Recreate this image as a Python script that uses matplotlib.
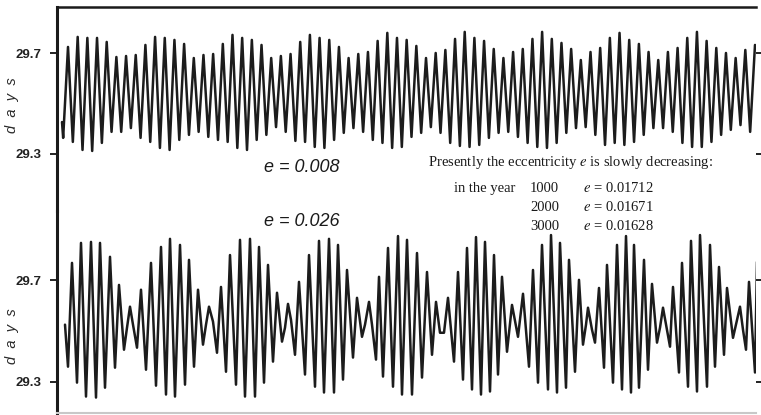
import numpy as np
import matplotlib
matplotlib.use("Agg")
import matplotlib.pyplot as plt

plt.rcParams['mathtext.fontset'] = 'stix'

# ---------------- data ----------------
# Upper curve (e = 0.008): successive maxima and minima of the month length (days)
top_start = 29.427
top_peaks = [29.726, 29.766, 29.762, 29.762, 29.746, 29.686, 29.690, 29.694, 29.734, 29.766,
             29.762, 29.754, 29.738, 29.682, 29.694, 29.698, 29.738,
             29.774, 29.762, 29.754, 29.734, 29.682, 29.690, 29.698, 29.746, 29.774, 29.762,
             29.754, 29.726, 29.682, 29.698, 29.706, 29.750, 29.782, 29.762,
             29.754, 29.730, 29.682, 29.702, 29.714, 29.758, 29.786, 29.762, 29.750, 29.718,
             29.682, 29.706, 29.718, 29.758, 29.786, 29.758, 29.742, 29.718, 29.674,
             29.706, 29.722, 29.762, 29.782, 29.754, 29.738, 29.706, 29.674, 29.706, 29.722,
             29.762, 29.786, 29.750, 29.722, 29.702, 29.682, 29.714, 29.734]
top_troughs = [29.364, 29.348, 29.316, 29.312, 29.344, 29.388, 29.388, 29.403, 29.364, 29.348,
               29.324, 29.316, 29.356, 29.376, 29.388, 29.368, 29.356, 29.348,
               29.324, 29.316, 29.356, 29.376, 29.407, 29.388, 29.352, 29.348, 29.328, 29.324,
               29.356, 29.384, 29.403, 29.388, 29.356, 29.344, 29.324,
               29.328, 29.368, 29.384, 29.407, 29.384, 29.344, 29.332, 29.328, 29.336, 29.364,
               29.384, 29.388, 29.368, 29.344, 29.328, 29.324, 29.344, 29.384, 29.403,
               29.407, 29.376, 29.336, 29.344, 29.336, 29.348, 29.376, 29.403, 29.403, 29.388,
               29.344, 29.328, 29.328, 29.348, 29.376, 29.396, 29.415, 29.388]
top_period = 9.676          # spacing of the maxima along the time axis
top_first_peak = 11.0

# Lower curve (e = 0.026): time position and value of each turning point
bot_t = [8, 11, 15, 20, 24, 29, 34, 39, 43, 48, 53, 58, 62, 67, 70, 73, 76, 80, 84, 89,
         94, 99, 104, 109, 113, 118, 123, 128, 132, 137, 141, 146, 149, 152, 156, 160, 164, 169, 173, 179,
         183, 188, 193, 198, 202, 207, 211, 216, 220, 225, 228, 231, 234, 238, 242, 248, 252, 258, 262, 267,
         272, 277, 281, 286, 290, 296, 300, 305, 308, 312, 315, 319, 322, 326, 331, 336, 341, 345, 350, 355,
         360, 365, 370, 375, 379, 383, 387, 391, 397, 401, 406, 410, 415, 419, 424, 428, 433, 437, 441, 445,
         450, 455, 461, 466, 472, 476, 481, 485, 491, 494, 500, 503, 509, 512, 518, 522, 526, 529, 531, 535,
         538, 542, 547, 550, 556, 560, 565, 569, 574, 577, 582, 587, 591, 595, 600, 603, 606, 610, 613, 616,
         622, 625, 631, 634, 640, 643, 650, 653, 658, 662, 667, 670, 676, 679, 683, 686, 689, 692, 698, 700]
bot_v = [29.525, 29.359, 29.769, 29.296, 29.848, 29.241, 29.852, 29.237, 29.848, 29.276,
         29.793, 29.355, 29.682, 29.426, 29.513, 29.596, 29.525, 29.434, 29.663, 29.347,
         29.769, 29.284, 29.832, 29.249, 29.864, 29.241, 29.840, 29.288, 29.781, 29.359,
         29.663, 29.446, 29.525, 29.596, 29.537, 29.414, 29.674, 29.339, 29.800, 29.288,
         29.860, 29.241, 29.864, 29.241, 29.832, 29.296, 29.761, 29.379, 29.651, 29.458,
         29.513, 29.607, 29.544, 29.406, 29.694, 29.328, 29.800, 29.280, 29.856, 29.257,
         29.864, 29.257, 29.840, 29.308, 29.741, 29.395, 29.631, 29.477, 29.525, 29.615,
         29.525, 29.387, 29.714, 29.320, 29.828, 29.280, 29.875, 29.249, 29.860, 29.249,
         29.808, 29.316, 29.733, 29.406, 29.615, 29.493, 29.493, 29.631, 29.379, 29.733,
         29.308, 29.828, 29.269, 29.871, 29.249, 29.852, 29.261, 29.800, 29.328, 29.714,
         29.418, 29.603, 29.477, 29.647, 29.359, 29.741, 29.296, 29.840, 29.269, 29.879,
         29.257, 29.848, 29.276, 29.781, 29.339, 29.702, 29.446, 29.525, 29.592, 29.505,
         29.454, 29.670, 29.355, 29.761, 29.296, 29.840, 29.269, 29.875, 29.257, 29.840,
         29.276, 29.781, 29.347, 29.686, 29.454, 29.513, 29.592, 29.505, 29.438, 29.674,
         29.336, 29.769, 29.280, 29.856, 29.261, 29.879, 29.280, 29.840, 29.359, 29.753,
         29.406, 29.670, 29.473, 29.525, 29.596, 29.505, 29.426, 29.694, 29.336, 29.773]

yticks = [29.3, 29.7]
ytick_labels = ["29.3", "29.7"]
curve_labels = ["e = 0.008", "e = 0.026"]
note_title = "Presently the eccentricity $e$ is slowly decreasing:"
years = ["1000", "2000", "3000"]
ecc_values = ["0.01712", "0.01671", "0.01628"]

# ---------------- build the upper series ----------------
k = np.arange(len(top_peaks))
pk_t = top_first_peak + top_period * k
tr_t = pk_t - top_period / 2
t_top = [top_first_peak - 6.0]
v_top = [top_start]
for i in range(len(top_peaks)):
    t_top += [tr_t[i], pk_t[i]]
    v_top += [top_troughs[i], top_peaks[i]]

# ---------------- figure ----------------
W, H = 761, 415
fig = plt.figure(figsize=(W / 100, H / 100), dpi=100)
fig.patch.set_facecolor("white")

L = 57 / W
AW = 699 / W
ax1 = fig.add_axes([L, 1 - 211 / H, AW, 204 / H])
ax2 = fig.add_axes([L, 1 - 413 / H, AW, 202 / H])

line_kw = dict(color="#1c1c1c", lw=1.8, solid_joinstyle="round", solid_capstyle="round")
ax1.plot(t_top, v_top, **line_kw)
ax2.plot(bot_t, bot_v, **line_kw)

ax1.set_ylim(29.073, 29.885)
ax2.set_ylim(29.176, 29.974)

for ax in (ax1, ax2):
    ax.set_xlim(0, 699)
    ax.set_xticks([])
    ax.set_yticks(yticks)
    ax.set_yticklabels(ytick_labels, fontfamily="Liberation Sans", fontweight="bold",
                       fontsize=9.5, color="#222222")
    ax.tick_params(axis="y", direction="out", length=5, width=1.4, pad=6,
                   left=True, right=True, labelright=False, color="#222222")
    ax.spines["right"].set_visible(False)
    ax.spines["left"].set_linewidth(2.2)
    ax.spines["left"].set_color("#1a1a1a")
    ax.set_facecolor("none")
    ax.set_ylabel("d  a  y  s", fontfamily="Liberation Sans", style="italic",
                  fontsize=10.5, color="#2a2a2a")

ax1.spines["bottom"].set_visible(False)
ax1.spines["top"].set_linewidth(1.8)
ax1.spines["top"].set_color("#1a1a1a")
ax2.spines["top"].set_visible(False)
ax2.spines["bottom"].set_color("#c8c8c8")
ax2.spines["bottom"].set_linewidth(1.5)

ax1.yaxis.set_label_coords(-0.055, 0.52)
ax2.yaxis.set_label_coords(-0.055, 0.38)


def fx(x):
    return x / W


def fy(y):
    return 1 - y / H


# curve annotations
fig.text(fx(302), fy(167), curve_labels[0], ha="center", va="center", style="italic",
         fontfamily="Liberation Sans", fontsize=13, color="#1a1a1a")
fig.text(fx(302), fy(221), curve_labels[1], ha="center", va="center", style="italic",
         fontfamily="Liberation Sans", fontsize=13, color="#1a1a1a")

# note block
serif = dict(fontfamily="Liberation Serif", fontsize=10.5, color="#1a1a1a", va="center")
fig.text(fx(428), fy(162), note_title, ha="left", **serif)
fig.text(fx(454), fy(188), "in the year", ha="left", **serif)
row_y = [188, 207, 226]
for yr, ev, ry in zip(years, ecc_values, row_y):
    fig.text(fx(530), fy(ry), yr, ha="left", **serif)
    fig.text(fx(583), fy(ry), "$e$ = " + ev, ha="left", **serif)

fig.savefig("out.png", dpi=100, facecolor="white")
